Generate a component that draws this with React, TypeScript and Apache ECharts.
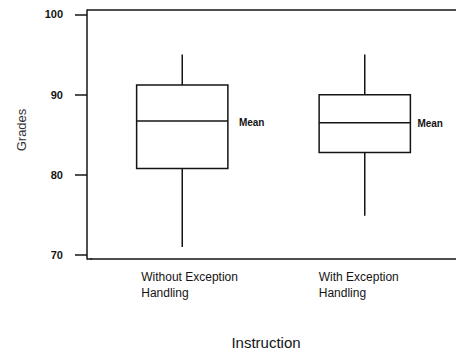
import React, { useEffect, useRef } from 'react';
import * as echarts from 'echarts';

const categories = ['Without Exception Handling', 'With Exception Handling'];
const labelLines = [
  ['Without Exception', 'Handling'],
  ['With Exception', 'Handling'],
];
const whiskerLow = [71.0, 74.9];
const q1 = [80.8, 82.8];
const median = [86.7, 86.5];
const q3 = [91.2, 90.0];
const whiskerHigh = [95.0, 95.0];
const yTicks = [70, 80, 90, 100];
const meanLabel = 'Mean';
const xTitle = 'Instruction';
const yTitle = 'Grades';

export default function App() {
  const ref = useRef<HTMLDivElement>(null);
  useEffect(() => {
    const chart = echarts.init(ref.current!, null, { renderer: 'svg' });
    const INK = '#141414';
    const FONT = '"Liberation Sans", Arial, sans-serif';
    const data = categories.map((_, i) => [i, whiskerLow[i], q1[i], median[i], q3[i], whiskerHigh[i]]);
    const lineStyle = { color: INK, width: 1.5 };
    chart.setOption({
      animation: false,
      textStyle: { fontFamily: FONT },
      grid: { left: 91, right: -1, top: 10, bottom: 93 },
      xAxis: {
        type: 'category',
        data: categories,
        axisLine: { lineStyle },
        axisTick: { alignWithLabel: true, length: 7, lineStyle },
        axisLabel: {
          interval: 0,
          margin: 10,
          formatter: (_v: string, i: number) =>
            labelLines[i].map((l) => `{${i === 0 ? 'a' : 'b'}|${l}}`).join('\n'),
          rich: {
            a: { width: 82, align: 'left', fontSize: 12, lineHeight: 16, color: INK, fontFamily: FONT },
            b: { width: 92, align: 'left', fontSize: 12, lineHeight: 16, color: INK, fontFamily: FONT },
          },
        },
        splitLine: { show: false },
      },
      yAxis: {
        type: 'value',
        min: 69.5,
        max: 100.56,
        offset: 4,
        axisLine: { show: true, lineStyle },
        axisTick: { show: true, length: 12, lineStyle, customValues: yTicks },
        axisLabel: {
          customValues: yTicks,
          margin: 24,
          fontSize: 11,
          fontWeight: 'bold',
          color: INK,
          fontFamily: FONT,
        },
        splitLine: { show: false },
      },
      series: [
        {
          type: 'custom',
          data,
          encode: { x: 0, y: [1, 2, 3, 4, 5] },
          renderItem: (params: any, api: any) => {
            const idx = api.value(0);
            const top = api.coord([idx, api.value(5)]);
            const p3 = api.coord([idx, api.value(4)]);
            const pm = api.coord([idx, api.value(3)]);
            const p1 = api.coord([idx, api.value(2)]);
            const bot = api.coord([idx, api.value(1)]);
            const bw = api.size([1, 0])[0];
            const half = bw * 0.25;
            const cx = top[0];
            const gap = params.dataIndex === 0 ? 11 : 7;
            const st = { stroke: INK, lineWidth: 1.5 };
            return {
              type: 'group',
              children: [
                { type: 'line', shape: { x1: cx, y1: top[1], x2: cx, y2: p3[1] }, style: st },
                {
                  type: 'rect',
                  shape: { x: cx - half, y: p3[1], width: half * 2, height: p1[1] - p3[1] },
                  style: { ...st, fill: 'none' },
                },
                { type: 'line', shape: { x1: cx - half, y1: pm[1], x2: cx + half, y2: pm[1] }, style: st },
                { type: 'line', shape: { x1: cx, y1: p1[1], x2: cx, y2: bot[1] }, style: st },
                {
                  type: 'text',
                  x: cx + half + gap,
                  y: pm[1] + 1,
                  style: {
                    text: meanLabel,
                    fontSize: 10,
                    fontWeight: 'bold',
                    fill: INK,
                    align: 'left',
                    verticalAlign: 'middle',
                    fontFamily: FONT,
                  },
                },
              ],
            };
          },
        },
      ],
      graphic: [
        { type: 'line', shape: { x1: 87, y1: 10, x2: 456, y2: 10 }, style: { stroke: INK, lineWidth: 1.5 } },
        { type: 'line', shape: { x1: 87, y1: 259, x2: 92, y2: 259 }, style: { stroke: INK, lineWidth: 1.5 } },
        {
          type: 'text',
          x: 266,
          y: 342,
          style: { text: xTitle, fontSize: 15, fill: INK, align: 'center', verticalAlign: 'middle', fontFamily: FONT },
        },
        {
          type: 'text',
          x: 21,
          y: 130,
          rotation: Math.PI / 2,
          style: { text: yTitle, fontSize: 13, fill: '#333', align: 'center', verticalAlign: 'middle', fontFamily: FONT },
        },
      ],
    });
    return () => chart.dispose();
  }, []);
  return <div ref={ref} style={{ position: 'absolute', left: 0, top: 0, width: 456, height: 352 }} />;
}
